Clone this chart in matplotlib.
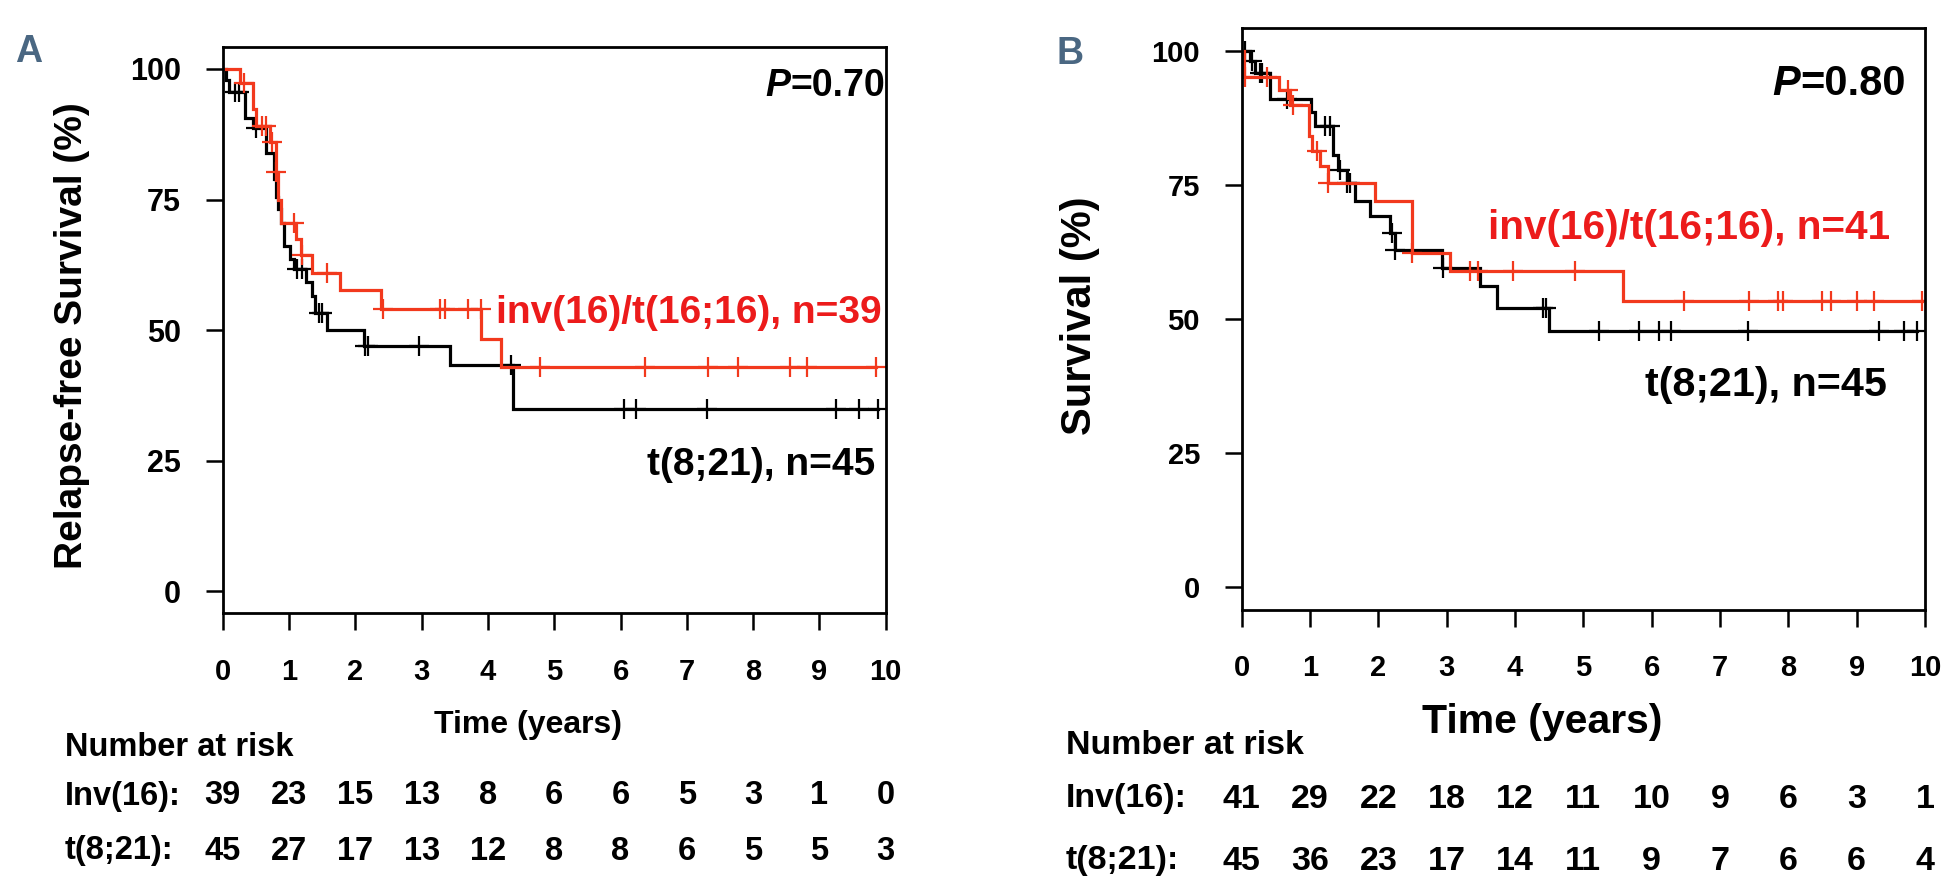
import numpy as np
import matplotlib.pyplot as plt
from matplotlib.transforms import blended_transform_factory

plt.rcParams['font.family'] = ['Liberation Sans', 'DejaVu Sans']
plt.rcParams['font.weight'] = 'bold'

W, H = 1951, 891
RED_LINE = "#f2391d"
RED_TEXT = "#ec1b1b"
LETTER = "#4a6782"

years = list(range(11))
yticks = [0, 25, 50, 75, 100]

# --- Panel A: relapse-free survival -------------------------------------
a_inv_t = [0, 0.26, 0.45, 0.50, 0.72, 0.80, 0.83, 0.88, 1.10, 1.18, 1.34, 1.77, 2.39, 3.90, 4.20]
a_inv_s = [100, 97.4, 92.3, 89.0, 86.0, 80.2, 75.0, 70.6, 67.5, 64.3, 61.0, 57.6, 54.0, 48.3, 42.9]
a_inv_c = [0.32, 0.60, 0.66, 0.75, 0.80, 1.07, 1.20, 1.58, 2.42, 3.27, 3.35, 3.70, 3.89,
           4.79, 6.37, 7.32, 7.77, 8.55, 8.81, 9.85]

a_t821_t = [0, 0.05, 0.10, 0.34, 0.45, 0.66, 0.77, 0.80, 0.83, 0.88, 0.93, 1.02, 1.07,
            1.26, 1.34, 1.39, 1.57, 2.13, 3.43, 4.38]
a_t821_s = [100, 97.8, 95.5, 90.6, 88.6, 84.0, 79.0, 75.5, 73.2, 70.6, 66.2, 63.6, 61.7,
            59.2, 56.6, 53.3, 50.0, 47.0, 43.4, 34.9]
a_t821_c = [0.18, 0.24, 0.50, 1.12, 1.20, 1.46, 1.50, 2.14, 2.19, 2.96, 4.35,
            6.05, 6.23, 7.31, 9.25, 9.59, 9.88]

a_risk_inv = [39, 23, 15, 13, 8, 6, 6, 5, 3, 1, 0]
a_risk_t821 = [45, 27, 17, 13, 12, 8, 8, 6, 5, 5, 3]

# --- Panel B: overall survival ------------------------------------------
b_inv_t = [0, 0.03, 0.54, 0.70, 0.98, 1.03, 1.15, 1.27, 1.95, 2.49, 3.05, 5.58]
b_inv_s = [100, 95.1, 92.7, 89.9, 84.0, 81.3, 78.5, 75.3, 71.9, 62.3, 58.9, 53.4]
b_inv_c = [0.05, 0.37, 0.68, 0.75, 1.10, 1.27, 2.49, 3.34, 3.46, 3.97, 4.88,
           6.47, 7.43, 7.85, 7.92, 8.49, 8.63, 9.00, 9.25, 9.96]

b_t821_t = [0, 0.12, 0.20, 0.41, 1.02, 1.07, 1.34, 1.41, 1.54, 1.66, 1.88, 2.17, 2.24,
            2.93, 3.49, 3.73, 4.49]
b_t821_s = [100, 98.0, 95.8, 90.9, 88.5, 85.9, 80.6, 77.8, 75.3, 71.9, 69.1, 66.0, 62.9,
            59.5, 56.1, 52.0, 47.8]
b_t821_c = [0.05, 0.15, 0.27, 0.29, 0.66, 1.22, 1.29, 1.44, 1.54, 1.59, 2.20, 2.24, 2.95,
            4.41, 4.46, 5.23, 5.81, 6.11, 6.28, 7.41, 9.32, 9.69, 9.88]

b_risk_inv = [41, 29, 22, 18, 12, 11, 10, 9, 6, 3, 1]
b_risk_t821 = [45, 36, 23, 17, 14, 11, 9, 7, 6, 6, 4]


def km(ax, t, s, cens, color):
    t_end = max(cens)
    ax.step(t + [t_end], s + [s[-1]], where="post", color=color, lw=2.3, solid_joinstyle="miter")
    idx = np.searchsorted(t, cens, side="right") - 1
    ax.plot(cens, np.array(s)[idx], ls="none", marker="+", ms=14, mew=1.6, color=color)


def style(ax, ysize, xsize):
    ax.set_xlim(0, 10)
    ax.set_ylim(-4.2, 104.2)
    ax.set_xticks(years)
    ax.set_yticks(yticks)
    for sp in ax.spines.values():
        sp.set_linewidth(2.0)
    ax.tick_params(direction="out", length=12, width=1.8)
    ax.tick_params(axis="x", labelsize=xsize, pad=20)
    ax.tick_params(axis="y", labelsize=ysize, pad=18)
    for lab in ax.get_xticklabels() + ax.get_yticklabels():
        lab.set_fontweight("bold")


def ftext(x, y, s, **kw):
    fig.text(x / W, 1 - y / H, s, **kw)


def risk_row(ax, y, values, size):
    tr = blended_transform_factory(ax.transData, fig.transFigure)
    for yr, n in zip(years, values):
        ax.text(yr, 1 - y / H, str(n), transform=tr, ha="center", va="center",
                fontsize=size, fontweight="bold")


fig = plt.figure(figsize=(W / 100, H / 100), dpi=100)
axA = fig.add_axes([222.7 / W, 1 - 613.3 / H, 663 / W, 566.3 / H])
axB = fig.add_axes([1241.7 / W, 1 - 610 / H, 683.3 / W, 582 / H])

km(axA, a_t821_t, a_t821_s, a_t821_c, "black")
km(axA, a_inv_t, a_inv_s, a_inv_c, RED_LINE)
style(axA, 22, 21)

km(axB, b_t821_t, b_t821_s, b_t821_c, "black")
km(axB, b_inv_t, b_inv_s, b_inv_c, RED_LINE)
style(axB, 21, 21)

# panel letters
ftext(29, 52, "A", fontsize=27, color=LETTER, ha="center", va="center")
ftext(1070, 54, "B", fontsize=27, color=LETTER, ha="center", va="center")

# axis titles
ftext(72, 336, "Relapse-free Survival (%)", rotation=90, fontsize=28, ha="center", va="center")
ftext(1080, 316, "Survival (%)", rotation=90, fontsize=30, ha="center", va="center")

trA = blended_transform_factory(axA.transData, fig.transFigure)
trB = blended_transform_factory(axB.transData, fig.transFigure)
axA.text(4.6, 1 - 725 / H, "Time (years)", transform=trA, ha="center", va="center", fontsize=23)
axB.text(4.4, 1 - 722 / H, "Time (years)", transform=trB, ha="center", va="center", fontsize=29.5)

# p-values
ftext(790, 86, "P", fontsize=27, style="italic", ha="right", va="center")
ftext(790, 86, "=0.70", fontsize=27, ha="left", va="center")
ftext(1800, 84, "P", fontsize=30, style="italic", ha="right", va="center")
ftext(1800, 84, "=0.80", fontsize=30, ha="left", va="center")

# group labels
ftext(882, 313, "inv(16)/t(16;16), n=39", fontsize=28, color=RED_TEXT, ha="right", va="center")
ftext(875, 465, "t(8;21), n=45", fontsize=28, ha="right", va="center")
ftext(1890, 228, "inv(16)/t(16;16), n=41", fontsize=29.2, color=RED_TEXT, ha="right", va="center")
ftext(1887, 385, "t(8;21), n=45", fontsize=29.7, ha="right", va="center")

# number at risk tables
ftext(65, 747, "Number at risk", fontsize=23.5, ha="left", va="center")
ftext(65, 796, "Inv(16):", fontsize=23.5, ha="left", va="center")
ftext(65, 851, "t(8;21):", fontsize=23.5, ha="left", va="center")
risk_row(axA, 796, a_risk_inv, 23.5)
risk_row(axA, 851, a_risk_t821, 23.5)

ftext(1066, 745, "Number at risk", fontsize=24.5, ha="left", va="center")
ftext(1066, 799, "Inv(16):", fontsize=24.5, ha="left", va="center")
ftext(1066, 861, "t(8;21):", fontsize=24.5, ha="left", va="center")
risk_row(axB, 799, b_risk_inv, 24.5)
risk_row(axB, 861, b_risk_t821, 24.5)

fig.savefig("out.png", dpi=100)
